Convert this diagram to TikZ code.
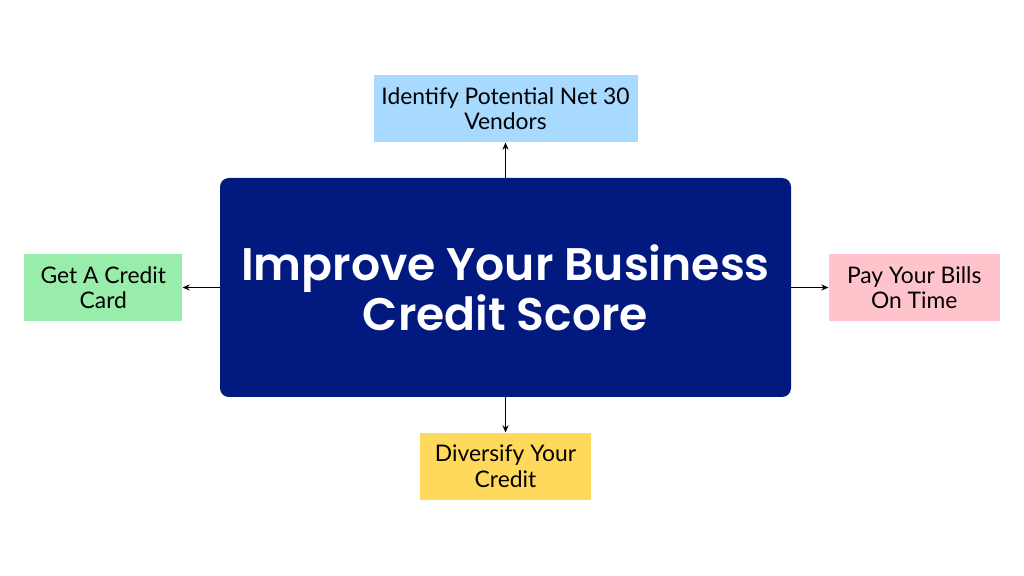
\documentclass[tikz,border=0pt]{standalone}
\usepackage{fontspec}
\setmainfont{Poppins}
\newfontfamily\titlefont{Poppins SemiBold}
\newfontfamily\boxfont{Lato}
\usepackage{tikz}
\usetikzlibrary{
    positioning,           % Relative positioning
    arrows.meta            % Modern arrow tips
}
\definecolor{mainnavy}{RGB}{2,26,128}
\definecolor{tipblue}{RGB}{168,217,255}
\definecolor{tipgreen}{RGB}{152,237,170}
\definecolor{tippink}{RGB}{255,196,203}
\definecolor{tipyellow}{RGB}{255,217,92}
\tikzset{mainbox/.style={
    fill=mainnavy, rounded corners=5pt, minimum width=11.42cm, minimum height=4.38cm,
    text=white, align=center, inner sep=0pt,
    font=\titlefont\fontsize{26}{26.5}\selectfont
}}
\tikzset{tipbox/.style={
    minimum height=1.35cm, inner sep=0pt, align=center,
    font=\boxfont\fontsize{13}{14.5}\selectfont
}}
\tikzset{link/.style={
    -{Stealth[length=4pt,width=3.5pt]}, line width=0.8pt, black
}}

\begin{document}
\begin{tikzpicture}
    \useasboundingbox (0,0) rectangle (20.48,11.52);
    \node[mainbox] (score) at (10.11,5.77) {Improve Your Business\\Credit Score};
    \node[tipbox, fill=tipblue, minimum width=5.28cm, above=0.7cm of score] (vendors) {Identify Potential Net 30\\Vendors};
    \node[tipbox, fill=tipgreen, minimum width=3.16cm, left=0.74cm of score] (card) {Get A Credit\\Card};
    \node[tipbox, fill=tippink, minimum width=3.42cm, right=0.74cm of score] (bills) {Pay Your Bills\\On Time};
    \node[tipbox, fill=tipyellow, minimum width=3.42cm, below=0.7cm of score] (diversify) {Diversify Your\\Credit};
    \draw[link] (score) -- (vendors);
    \draw[link] (score) -- (card);
    \draw[link] (score) -- (bills);
    \draw[link] (score) -- (diversify);
\end{tikzpicture}
\end{document}
